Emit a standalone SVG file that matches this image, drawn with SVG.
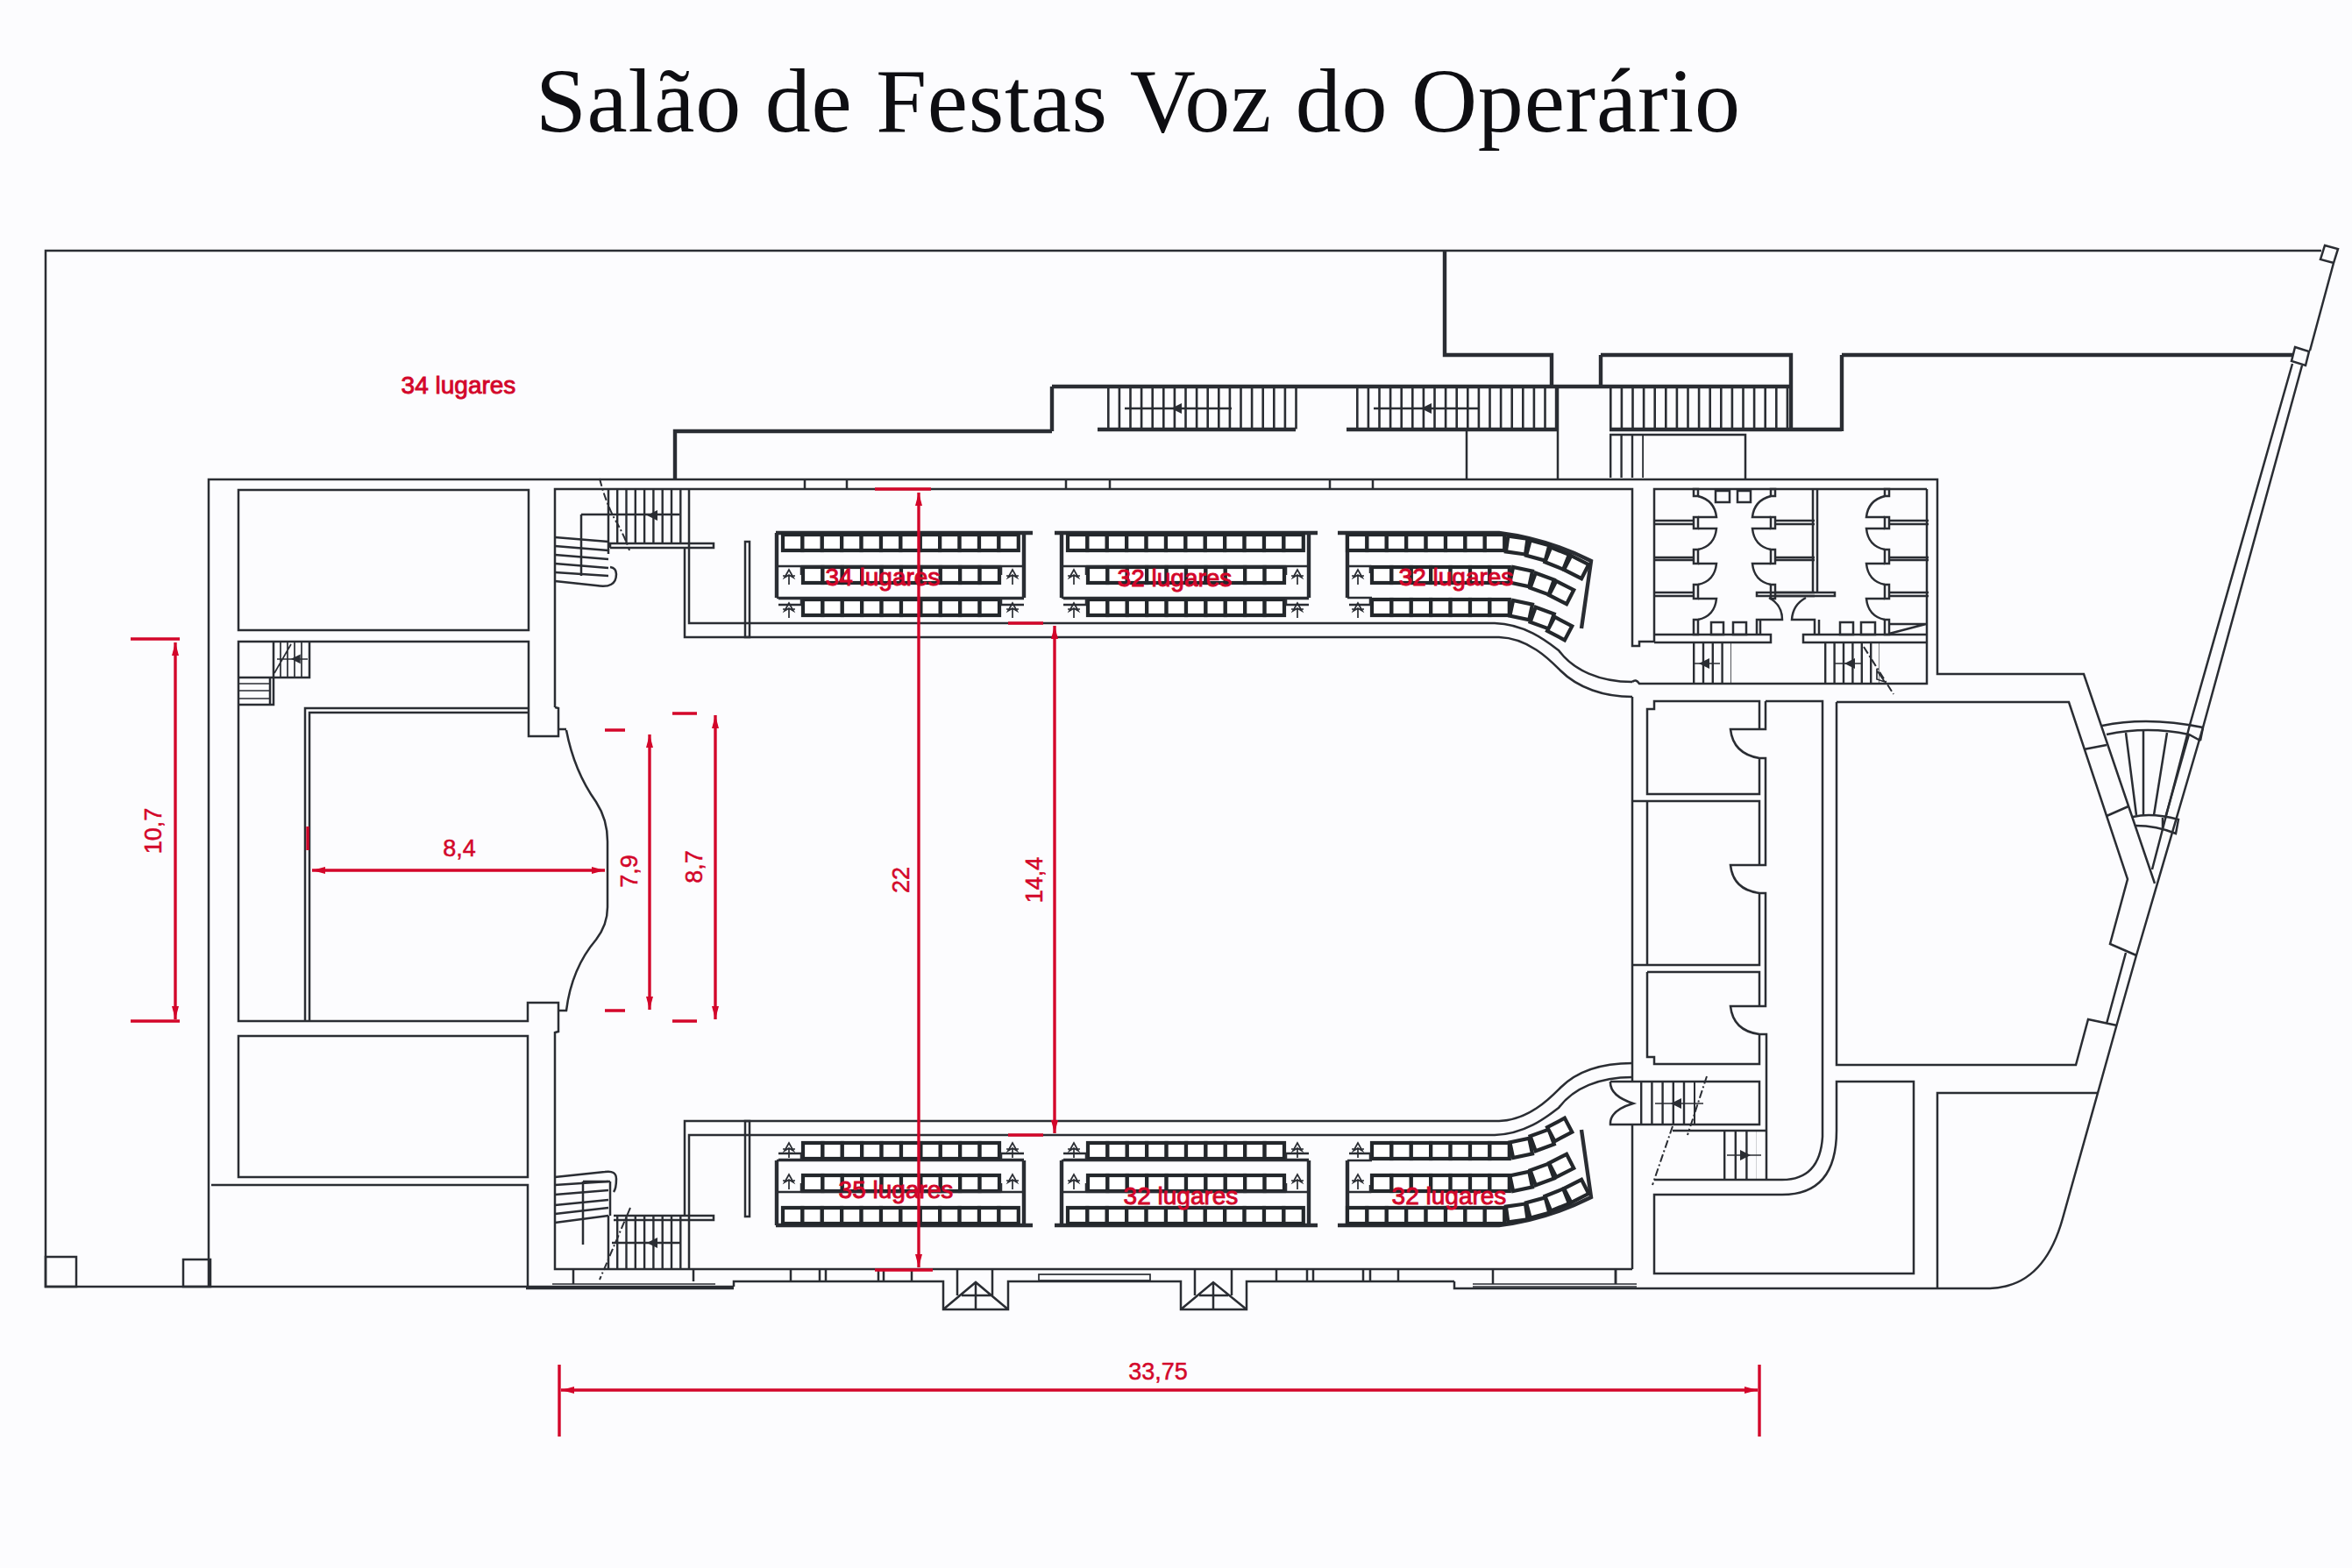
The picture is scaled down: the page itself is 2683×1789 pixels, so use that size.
<svg xmlns="http://www.w3.org/2000/svg" width="2683" height="1789" viewBox="0 0 2683 1789">
<style>
.w{fill:none;stroke:#2a2d33;stroke-width:2.5}
.t{fill:none;stroke:#2a2d33;stroke-width:4.4}
.h{fill:none;stroke:#2a2d33;stroke-width:1.7}
.d{fill:none;stroke:#2a2d33;stroke-width:2;stroke-dasharray:9 3 2 3}
.s{fill:#fff;stroke:#23272b;stroke-width:4.2}
.a{fill:#2a2d33;stroke:none}
.r{fill:none;stroke:#d3062a;stroke-width:3.4}
.rm{fill:none;stroke:#d3062a;stroke-width:3.4;marker-start:url(#ra);marker-end:url(#ra)}
.l{font-family:"Liberation Sans",Arial,sans-serif;font-size:28px;fill:#d3062a;stroke:#d3062a;stroke-width:.9}
.n{font-family:"Liberation Sans",Arial,sans-serif;font-size:27px;fill:#d3062a;stroke:#d3062a;stroke-width:.5}
.title{font-family:"Liberation Serif","Times New Roman",serif;font-size:104px;fill:#0e0e12}
</style>
<defs>
<marker id="ra" markerUnits="userSpaceOnUse" markerWidth="16" markerHeight="10" refX="15" refY="5" orient="auto-start-reverse"><path d="M0,1 L15,5 L0,9Z" fill="#d3062a"/></marker>
<rect id="seat" width="22.4" height="18" class="s"/>
<g id="r10"><use href="#seat"/><use href="#seat" x="22.4"/><use href="#seat" x="44.8"/><use href="#seat" x="67.2"/><use href="#seat" x="89.6"/><use href="#seat" x="112"/><use href="#seat" x="134.4"/><use href="#seat" x="156.8"/><use href="#seat" x="179.2"/><use href="#seat" x="201.6"/></g>
<g id="r7"><use href="#seat"/><use href="#seat" x="22.4"/><use href="#seat" x="44.8"/><use href="#seat" x="67.2"/><use href="#seat" x="89.6"/><use href="#seat" x="112"/><use href="#seat" x="134.4"/></g>
<path id="star" class="h" d="M0,-8 L-5,1 L0,-2 L5,1Z M0,-2 V9 M-7,-1 L7,-1"/>
<polygon id="arw" class="a" points="-7,0 5,-6 5,6"/>
<g id="blockS">
<use href="#r10" x="893" y="610"/><use href="#seat" x="1117" y="610"/><use href="#seat" x="1139.4" y="610"/>
<use href="#r10" x="916" y="647"/><use href="#r10" x="916" y="684"/>
<path class="t" d="M886,608 V682 M1168,608 V682"/>
<path class="w" d="M886,646 H1168 M886,682 H1168 M888,646 H914 V656 M888,683 H914 V690 M888,690 H914 M1168,646 H1142 V656 M1168,683 H1142 V690 M1168,690 H1142"/>
</g>
<g id="blockC">
<path class="t" d="M1526,608 H1710 Q1765,615 1815,640 L1804,717"/>
<path class="t" d="M1537,608 V682"/>
<use href="#r7" x="1537" y="610"/><use href="#seat" x="1693.8" y="610"/>
<use href="#seat" transform="translate(1730,622) rotate(8) translate(-11,-9)"/><use href="#seat" transform="translate(1754,628) rotate(15) translate(-11,-9)"/><use href="#seat" transform="translate(1776,637) rotate(22) translate(-11,-9)"/><use href="#seat" transform="translate(1798,647) rotate(27) translate(-11,-9)"/>
<use href="#r7" x="1565" y="647"/><use href="#r7" x="1565" y="684"/>
<use href="#seat" transform="translate(1735,658) rotate(12) translate(-11,-9)"/><use href="#seat" transform="translate(1759,666) rotate(20) translate(-11,-9)"/><use href="#seat" transform="translate(1781,676) rotate(27) translate(-11,-9)"/>
<use href="#seat" transform="translate(1735,696) rotate(12) translate(-11,-9)"/><use href="#seat" transform="translate(1759,705) rotate(20) translate(-11,-9)"/><use href="#seat" transform="translate(1779,717) rotate(28) translate(-11,-9)"/>
<path class="w" d="M1537,646 H1563 V654 M1537,682 H1565 M1539,690 H1563 V683"/>
</g>
<g id="stars"><use href="#star" x="900"/><use href="#star" x="1155"/><use href="#star" x="1225"/><use href="#star" x="1480"/><use href="#star" x="1549"/></g>
<g id="doors3">
<path class="w" d="M1887,594 H1932 M1887,598 H1932 M1887,636 H1932 M1887,639 H1932 M1887,676 H1932 M1887,680 H1932"/>
<path class="w" d="M1937,566 Q1956,571 1958,590 H1937 M1937,603 H1958 Q1956,623 1937,627 M1937,643 H1958 Q1956,663 1937,667"/>
<rect class="w" x="1932" y="558" width="5" height="8"/><rect class="w" x="1932" y="590" width="5" height="13"/><rect class="w" x="1932" y="627" width="5" height="16"/><rect class="w" x="1932" y="667" width="5" height="16"/>
</g>
<g id="door4">
<path class="w" d="M1937,683 H1958 Q1956,703 1937,707"/><rect class="w" x="1932" y="707" width="5" height="17"/>
</g>
</defs>
<rect width="2683" height="1789" fill="#fcfcfe"/>
<text class="title" x="611" y="150" textLength="1374" lengthAdjust="spacing">Salão de Festas Voz do Operário</text>

<g id="site">
<path class="w" d="M2648,286 H52 V1468 H837"/>
<path class="t" d="M1648,286 V405 H1770 V441"/>
<rect class="w" x="52" y="1434" width="35" height="34"/><rect class="w" x="209" y="1437" width="31" height="31"/>
<path class="w" d="M2652,280 L2667,284 L2662,300 L2647,296Z M2662,300 L2635,400 M2618,396 L2634,401 L2630,417 L2614,412Z"/>
<path class="w" d="M2615,415 L2498,827 L2455,992 M2626,417 L2513,830 L2437,1090 L2415,1168 L2393,1247 L2353,1390 Q2335,1455 2290,1467 Q2280,1470 2270,1470 H1659 V1462"/>
<path class="t" d="M2101,405 H2615"/>
</g>

<g id="upper-stairs">
<path class="t" d="M1200,441 H2043 M1826,405 H2043 V490 M1826,405 V441 M1200,441 V492 M2101,405 V492 M770,547 V492 H1200 M1252,490 H1478 M1536,490 H1777 M1836,490 H2101"/>
<path class="w" d="M1673,490 V547 M1777,441 V547 M1836,496 H1991 V547 M1216,547 V558 M1266,547 V558 M1517,547 V558 M1566,547 V558 M918,547 V558 M966,547 V558"/>
<line x1="1263" y1="465" x2="1480" y2="465" stroke="#2a2d33" stroke-width="49" stroke-dasharray="2.6 10"/>
<line x1="1547" y1="465" x2="1779" y2="465" stroke="#2a2d33" stroke-width="49" stroke-dasharray="2.6 10"/>
<line x1="1836" y1="465" x2="2045" y2="465" stroke="#2a2d33" stroke-width="49" stroke-dasharray="2.6 10"/>
<line x1="1836" y1="520" x2="1875" y2="520" stroke="#2a2d33" stroke-width="50" stroke-dasharray="2.4 10"/>
<path class="w" d="M1283,466 H1405 M1567,466 H1688"/>
<use href="#arw" x="1343" y="466"/><use href="#arw" x="1628" y="466"/>
</g>

<g id="hall">
<path class="w" d="M238,1468 V547 H2210 V769 H2377 L2458,1008 M633,807 V558 H1862 V737 H1870 V732 H1887"/>
<path class="w" d="M1862,795 V1233 M1862,1283 V1448 M1862,778 Q1866,774 1870,780 H2198 V558"/>
<path class="w" d="M781,625 V727 H1710 C1745,728 1770,755 1780,765 C1800,785 1830,795 1862,795 M786,625 V711 H1705 C1740,712 1765,732 1778,742 C1795,765 1825,778 1862,778"/>
<path class="w" d="M781,1387 V1279 H1710 C1745,1278 1770,1251 1780,1241 C1800,1221 1830,1213 1862,1213 M786,1387 V1295 H1705 C1740,1294 1765,1274 1778,1264 C1795,1241 1825,1229 1862,1229"/>
<path class="w" d="M696,625 V620 H814 V625 H696 M700,1387 H814 V1392 H700"/>
<rect class="w" x="850" y="618" width="5" height="109"/><rect class="w" x="850" y="1279" width="5" height="109"/>
<path class="w" d="M633,1177 V1448 H1862"/>
<path class="w" d="M646,833 Q655,880 680,915 Q693,935 693,960 V1035 Q693,1055 680,1072 Q652,1105 646,1153 H638 M638,832 H646"/>
</g>

<g id="facade">
<path class="w" d="M600,1470 H837 M837,1468 V1462 H1076 V1494 H1150 V1462 H1347 V1494 H1422 V1462 H1659"/>
<path class="h" d="M630,1465 H816 M630,1468 H816 M1680,1465 H1867 M1680,1468 H1867"/>
<path class="w" d="M654,1448 V1465 M791,1448 V1462 M902,1448 V1462 M935,1448 V1462 M942,1448 V1462 M1002,1448 V1462 M1008,1448 V1462 M1040,1448 V1462 M1456,1448 V1462 M1491,1448 V1462 M1498,1448 V1462 M1555,1448 V1462 M1563,1448 V1462 M1595,1448 V1462 M1703,1448 V1465 M1843,1448 V1465"/>
<rect class="h" x="1185" y="1454" width="127" height="7"/>
<path class="w" d="M1092,1448 V1478 M1132,1448 V1478 M1076,1494 L1113,1463 L1150,1494 M1097,1478 H1130 M1113,1463 V1494"/>
<path class="w" d="M1363,1448 V1478 M1405,1448 V1478 M1347,1494 L1384,1463 L1422,1494 M1368,1478 H1401 M1384,1463 V1494"/>
</g>

<g id="left-rooms">
<rect class="w" x="272" y="559" width="331" height="160"/>
<path class="w" d="M633,807 L637,808 V840 H603 V732 H272 V1165 H602 V1144 H637 V1177 L633,1178"/>
<path class="w" d="M603,808 H348 V1165 M603,813 H353 V1165"/>
<rect class="w" x="272" y="1182" width="330" height="161"/>
<path class="w" d="M241,1352 H602 V1468"/>
<path class="w" d="M312,732 V773 H353 V732 M272,773 H312 V804 H272 M308,773 V804"/>
<path class="h" d="M272,780 H308 M272,788 H308 M272,797 H308 M320,732 V773 M328,732 V773 M336,732 V773 M344,732 V773 M313,768 L332,735 M316,752 H351"/>
<use href="#arw" x="338" y="752" transform="translate(34,75) scale(.9)"/>
</g>

<g id="stair-top-left">
<path class="w" d="M694,558 V632 M786,558 V625 M663,587 H775 M663,587 V657"/>
<line x1="703" y1="589" x2="786" y2="589" stroke="#2a2d33" stroke-width="62" stroke-dasharray="2.4 7.9"/>
<path class="w" d="M633,613 L694,618 M633,623 L694,628 M633,633 L694,638 M633,643 L694,648 M633,653 L694,657 M633,663 L680,668 Q703,672 703,655 Q703,648 696,647"/>
<path class="d" d="M684,546 Q690,570 700,590 Q712,610 718,628"/>
<use href="#arw" x="745" y="588"/>
</g>

<g id="stair-bottom-left">
<path class="w" d="M694,1387 V1448 M786,1387 V1448 M696,1348 V1387 M665,1348 H696 M665,1348 V1420 M698,1418 H776"/>
<line x1="703" y1="1417" x2="786" y2="1417" stroke="#2a2d33" stroke-width="61" stroke-dasharray="2.4 7.9"/>
<path class="w" d="M633,1352 L694,1348 M633,1363 L694,1358 M633,1375 L694,1369 M633,1385 L694,1378 M633,1395 L694,1387 M633,1343 L690,1337 Q703,1335 703,1345 Q703,1356 700,1360"/>
<path class="d" d="M719,1378 L684,1460"/>
<use href="#arw" x="745" y="1418"/>
</g>

<g id="seating">
<path class="t" d="M885,608 H1178"/><use href="#blockS"/>
<path class="t" d="M1203,608 H1503"/><use href="#blockS" transform="translate(325,0)"/>
<use href="#blockC"/>
<g transform="translate(0,2006) scale(1,-1)">
<path class="t" d="M885,608 H1178"/><use href="#blockS"/>
<path class="t" d="M1203,608 H1503"/><use href="#blockS" transform="translate(325,0)"/>
<use href="#blockC"/>
</g>
<use href="#stars" y="658"/><use href="#stars" y="696"/><use href="#stars" y="1312"/><use href="#stars" y="1348"/>
</g>

<g id="toilets">
<path class="w" d="M1887,732 V558 H2198 M1887,724 H2020 V733 H1887 M2198,724 H2057 V733 H2198"/>
<path class="w" d="M2068,558 V676 M2073,558 V676 M2004,676 H2093 V680 H2004Z"/>
<use href="#doors3"/><use href="#door4"/>
<use href="#doors3" transform="translate(3957,0) scale(-1,1)"/>
<use href="#doors3" transform="translate(4087,0) scale(-1,1)"/><use href="#door4" transform="translate(4087,0) scale(-1,1)"/>
<path class="w" d="M2018,682 Q2033,690 2033,707 H2004 V724 M2008,707 V724 M2060,682 Q2045,690 2044,707 H2070 V724 M2075,707 V724"/>
<rect class="w" x="1957" y="560" width="16" height="13"/><rect class="w" x="1982" y="560" width="15" height="13"/>
<rect class="w" x="1952" y="710" width="14" height="14"/><rect class="w" x="1977" y="710" width="15" height="14"/><rect class="w" x="2099" y="710" width="15" height="14"/><rect class="w" x="2123" y="710" width="16" height="14"/>
<path class="w" d="M2155,712 H2198 M2155,723 L2197,712"/>
<line x1="1931" y1="756" x2="1975" y2="756" stroke="#2a2d33" stroke-width="47" stroke-dasharray="2.4 8.4"/>
<line x1="2081" y1="756" x2="2144" y2="756" stroke="#2a2d33" stroke-width="47" stroke-dasharray="2.4 8"/>
<path class="h" d="M1932,757 H1962 M2092,757 H2123 M2141,765 L2141,775 L2150,778Z"/>
<use href="#arw" x="1945" y="757"/><use href="#arw" x="2111" y="757"/>
<path class="d" d="M2126,738 L2160,792"/>
</g>

<g id="service-rooms">
<path class="w" d="M1887,800 H2007 V832 H1974 Q1977,860 2007,865 V906 H1879 V809 H1887Z M2007,832 H2014 V800 M2014,800 H2079 V1297 Q2076,1346 2033,1346 H1887 M2007,865 H2014 V987 H1974 Q1977,1015 2007,1019 H2014 V1148 H1974 Q1977,1176 2007,1180 H2015 V1346"/>
<path class="w" d="M1863,914 H2007 V987 M1879,914 V1101 M1863,1101 H2007 V1019"/>
<path class="w" d="M1879,1109 H2007 V1148 M2007,1180 V1214 H1887 V1206 H1879 V1109"/>
<path class="w" d="M2095,801 H2360 L2427,1003 L2407,1077 L2437,1090 M2095,801 V1215 H2368 L2382,1163 L2415,1170 M2425,1087 L2403,1168"/>
<path class="w" d="M2377,855 L2403,850 M2403,931 L2428,920"/>
<path class="w" d="M2095,1234 H2183 V1453 H1887 V1363 H2033 Q2095,1363 2095,1290 Z M2210,1470 V1247 H2393"/>
<path class="w" d="M1837,1234 H2007 V1283 H1837 Q1836,1267 1863,1259 Q1836,1250 1837,1234 M1908,1290 H2014"/>
<line x1="1871" y1="1258" x2="1934" y2="1258" stroke="#2a2d33" stroke-width="49" stroke-dasharray="2.4 9.8"/>
<line x1="1966" y1="1318" x2="2004" y2="1318" stroke="#2a2d33" stroke-width="56" stroke-dasharray="2.4 10.2"/>
<path class="h" d="M1888,1259 H1943 M1970,1318 H2009"/>
<use href="#arw" x="1913" y="1259"/><use href="#arw" x="1990" y="1318" transform="rotate(180 1990 1318)"/>
<path class="d" d="M1908,1285 L1885,1352 M1947,1228 L1925,1295"/>
<path class="w" d="M1843,1448 V1465"/>
</g>

<g id="spiral-stair">
<path class="w" d="M2398,828 Q2450,817 2513,830 M2403,838 Q2450,828 2497,838 L2510,845 M2513,830 L2510,845"/>
<path class="w" d="M2425,836 L2437,930 M2445,834 V930 M2472,836 L2457,930"/>
<path class="w" d="M2433,932 Q2455,927 2485,935 L2482,951 Q2460,942 2436,942 M2467,933 V947"/>
<path class="w" d="M2497,838 L2470,933"/>
</g>

<g id="dimensions">
<path class="r" d="M998,558 H1062 M998,1449 H1064 M1150,711 H1190 M1150,1295 H1190 M767,814 H795 M767,1165 H795 M690,833 H713 M690,1153 H713 M149,729 H205 M149,1165 H205 M638,1557 V1639 M2007,1557 V1639"/>
<path class="r" d="M351,943 V970"/>
<line class="rm" x1="1048" y1="562" x2="1048" y2="1446"/>
<line class="rm" x1="1203" y1="714" x2="1203" y2="1293"/>
<line class="rm" x1="356" y1="993" x2="690" y2="993"/>
<line class="rm" x1="741" y1="838" x2="741" y2="1152"/>
<line class="rm" x1="816" y1="816" x2="816" y2="1163"/>
<line class="rm" x1="200" y1="733" x2="200" y2="1163"/>
<line class="rm" x1="640" y1="1586" x2="2005" y2="1586"/>
<text class="n" x="524" y="977" text-anchor="middle">8,4</text>
<text class="n" transform="translate(1037,1004) rotate(-90)" text-anchor="middle">22</text>
<text class="n" transform="translate(1189,1004) rotate(-90)" text-anchor="middle">14,4</text>
<text class="n" transform="translate(727,994) rotate(-90)" text-anchor="middle">7,9</text>
<text class="n" transform="translate(801,989) rotate(-90)" text-anchor="middle">8,7</text>
<text class="n" transform="translate(184,948) rotate(-90)" text-anchor="middle">10,7</text>
<text class="n" x="1321" y="1574" text-anchor="middle">33,75</text>
<text class="l" x="523" y="449" text-anchor="middle">34 lugares</text>
<text class="l" x="1007" y="668" text-anchor="middle">34 lugares</text>
<text class="l" x="1340" y="669" text-anchor="middle">32 lugares</text>
<text class="l" x="1661" y="668" text-anchor="middle">32 lugares</text>
<text class="l" x="1022" y="1367" text-anchor="middle">35 lugares</text>
<text class="l" x="1347" y="1374" text-anchor="middle">32 lugares</text>
<text class="l" x="1653" y="1374" text-anchor="middle">32 lugares</text>
</g>
</svg>
